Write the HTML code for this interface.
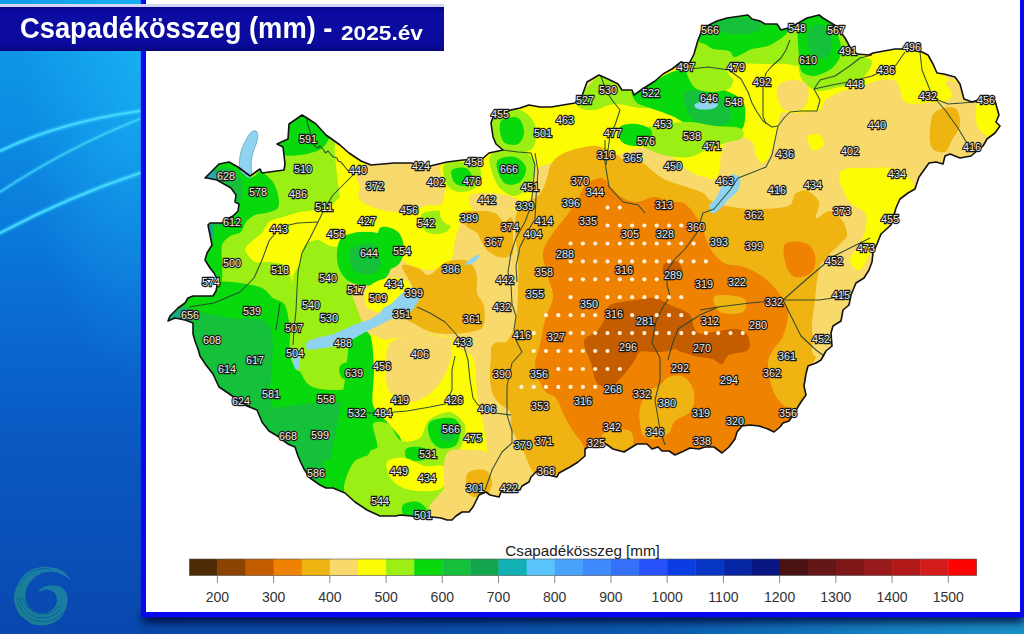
<!DOCTYPE html>
<html><head><meta charset="utf-8">
<style>
html,body{margin:0;padding:0;}
body{width:1024px;height:634px;overflow:hidden;position:relative;font-family:"Liberation Sans",sans-serif;
background:linear-gradient(180deg,#109ee8 0%,#0c8ce2 20%,#0a70d6 45%,#0a58c2 70%,#0948ae 100%);}
#bottom{position:absolute;left:138px;top:616px;width:886px;height:18px;
background:linear-gradient(90deg,#0848a8 0%,#0a4aa8 30%,#0b5cb0 60%,#1580c0 85%,#1a90c8 100%);}
#shadow{position:absolute;left:143px;top:606px;width:881px;height:10px;box-shadow:0 6px 9px 0px rgba(0,8,48,0.95);}
#panel{position:absolute;left:141px;top:-10px;width:873.5px;height:621.7px;background:#fff;border:5px solid #0808ee;border-top:none;box-shadow:0 0 1.5px 0.5px #0808ee;}
#title{position:absolute;left:0;top:4px;width:444px;height:47px;background:linear-gradient(180deg,#05058e 0px,#0c0ca2 6px,#0a0a9c 38px,#06067a 44px);border-top:3px solid #d4d4f6;box-sizing:border-box;}
#tt{position:absolute;left:20px;top:5px;color:#fff;font-weight:bold;font-size:29px;white-space:nowrap;transform-origin:0 0;transform:scaleX(0.941);}
#ty{position:absolute;left:341px;top:14px;color:#fff;font-weight:bold;font-size:21px;white-space:nowrap;transform-origin:0 0;transform:scaleX(1.08);}
svg{position:absolute;left:0;top:0;}
.lab text{font-size:11.3px;fill:#eee;stroke:#151515;stroke-width:2.3px;paint-order:stroke;font-family:"Liberation Sans",sans-serif;text-anchor:middle;}
</style></head><body>
<div id="bottom"></div>
<svg id="bg" width="146" height="634" viewBox="0 0 146 634" style="position:absolute;left:0;top:0">
<defs><linearGradient id="lg" x1="0" y1="1" x2="1" y2="0"><stop offset="0" stop-color="#2ab860"/><stop offset="1" stop-color="#28a8b0"/></linearGradient><radialGradient id="hl" cx="0.95" cy="0.15" r="0.8"><stop offset="0" stop-color="#22c4ff" stop-opacity="0.5"/><stop offset="1" stop-color="#22c4ff" stop-opacity="0"/></radialGradient></defs>
<rect x="0" y="0" width="146" height="400" fill="url(#hl)"/>
<filter id="gl" x="-10%" y="-50%" width="120%" height="200%"><feGaussianBlur stdDeviation="1.2"/></filter>
<g fill="none" stroke="#38d4ff" stroke-linecap="round" opacity="0.9" filter="url(#gl)">
<path d="M0,151 Q60,122 140,111" stroke-width="3.5"/>
<path d="M0,192 Q70,146 140,119" stroke-width="2.5" opacity="0.8"/>
<path d="M0,233 Q70,196 140,173" stroke-width="3.5"/>
</g>
<g fill="none" stroke="#50dcff" stroke-linecap="round" opacity="0.85">
<path d="M0,151 Q60,122 140,111" stroke-width="1.5"/>
<path d="M0,192 Q70,146 140,119" stroke-width="1.1" opacity="0.8"/>
<path d="M0,233 Q70,196 140,173" stroke-width="1.5"/>
</g>
<path d="M72,581 L64,572 L56,568 L43,566.5 L33,569 L26,573 L20,580 L16,588 L14,596 L14.5,603 L17,610 L20,615 L26,620 L32,624 L40,625.5 L47,625 L53,623 L59,619.5 L63,614.5 L66,608.5 L67.5,602 L67.4,596 L65.5,591 L63,588.5 L58.5,586 L54,585.4 L49,585.5 L44,586.5 L40,589.5 L38.5,592 L41,591 L45,589.5 L50,590 L54,592 L56.5,596 L57,601 L55.5,606 L52,610 L47,613 L40,613.5 L33,611 L28,606 L25.5,600 L25.5,594 L27,587 L30,582 L35,577 L42,573 L50,571.5 L58,572.5 L65,576 Z" fill="url(#lg)" opacity="0.5"/>
<g fill="none" stroke="#0a4cb8" stroke-width="0.8" opacity="0.8">
<path d="M17,597 A26,26 0 0 0 64,611"/>
<path d="M20,598 A23,23 0 0 0 61,609"/>
<path d="M23,598 A20,20 0 0 0 58,607"/>
<path d="M20,585 A27,27 0 0 1 50,569"/>
</g>
</g>
</svg>
<div id="shadow"></div>
<div id="panel"></div>
<svg width="1024" height="634" viewBox="0 0 1024 634">
<defs><clipPath id="hu"><path d="M205,178 L219,164 L229,162 L238,167 L250,176 L257,171 L260,169 L262,173 L284,170 L285,164 L283,147 L277,144 L288,139 L289,124 L302,115 L307,118 L316,124 L326,135 L340,145 L349,153 L361,161 L371,165 L394,163 L411,163 L430,166 L447,162 L463,160 L482,159 L489,153 L503,150 L496,144 L493,137 L491,123 L494,114 L506,111 L520,108 L529,105 L540,107 L551,107 L575,103 L582,96 L587,82 L599,75 L608,79 L618,84 L622,90 L632,90 L634,95 L644,88 L655,81 L663,74 L672,69 L681,62 L689,64 L694,54 L698,40 L703,28 L717,21 L727,18 L748,15 L752,19 L760,21 L765,24 L777,24 L781,30 L788,28 L795,25 L807,18 L819,15 L823,18 L836,26 L845,38 L850,47 L857,54 L869,55 L873,53 L884,51 L895,49 L904,49 L922,52 L928,55 L933,64 L937,73 L944,74 L955,77 L960,84 L964,99 L972,102 L981,99 L995,101 L997,108 L999,115 L996,122 L1000,126 L995,133 L987,139 L983,146 L971,156 L960,158 L950,154 L945,156 L943,164 L936,162 L929,163 L924,170 L919,177 L915,189 L908,193 L900,199 L896,208 L891,225 L881,234 L877,244 L873,253 L872,262 L869,270 L864,278 L856,283 L851,295 L849,305 L843,310 L841,321 L833,326 L831,333 L832,346 L826,351 L821,360 L816,363 L808,366 L806,374 L804,386 L806,395 L801,402 L796,410 L791,418 L789,421 L783,423 L780,427 L774,432 L768,429 L759,426 L750,425 L742,426 L737,432 L735,439 L729,447 L722,453 L714,447 L705,447 L699,449 L690,448 L684,451 L675,455 L669,451 L662,451 L658,447 L652,449 L647,444 L637,444 L624,452 L613,449 L606,444 L600,442 L593,444 L585,449 L585,456 L578,462 L570,467 L559,473 L557,477 L548,475 L537,471 L531,477 L529,482 L522,486 L520,490 L510,490 L501,492 L499,497 L490,495 L486,492 L479,495 L477,499 L473,507 L469,512 L462,512 L456,516 L452,520 L447,520 L441,518 L432,517 L421,518 L411,516 L400,515 L396,516 L380,516 L367,510 L355,502 L345,493 L333,488 L326,488 L320,485 L310,478 L304,469 L301,463 L298,456 L295,447 L288,444 L279,437 L269,431 L262,422 L257,410 L247,406 L235,398 L228,393 L219,387 L213,374 L206,365 L200,356 L198,349 L195,341 L193,334 L193,323 L185,320 L175,318 L168,321 L170,316 L178,308 L185,303 L188,298 L193,296 L205,296 L213,296 L216,291 L218,281 L214,273 L210,268 L205,260 L207,253 L212,245 L210,235 L208,225 L210,223 L222,223 L229,218 L233,216 L238,211 L239,204 L235,202 L236,195 L231,188 L217,180 L207,178Z"/></clipPath></defs>
<g clip-path="url(#hu)">
<path d="M205,178 L219,164 L229,162 L238,167 L250,176 L257,171 L260,169 L262,173 L284,170 L285,164 L283,147 L277,144 L288,139 L289,124 L302,115 L307,118 L316,124 L326,135 L340,145 L349,153 L361,161 L371,165 L394,163 L411,163 L430,166 L447,162 L463,160 L482,159 L489,153 L503,150 L496,144 L493,137 L491,123 L494,114 L506,111 L520,108 L529,105 L540,107 L551,107 L575,103 L582,96 L587,82 L599,75 L608,79 L618,84 L622,90 L632,90 L634,95 L644,88 L655,81 L663,74 L672,69 L681,62 L689,64 L694,54 L698,40 L703,28 L717,21 L727,18 L748,15 L752,19 L760,21 L765,24 L777,24 L781,30 L788,28 L795,25 L807,18 L819,15 L823,18 L836,26 L845,38 L850,47 L857,54 L869,55 L873,53 L884,51 L895,49 L904,49 L922,52 L928,55 L933,64 L937,73 L944,74 L955,77 L960,84 L964,99 L972,102 L981,99 L995,101 L997,108 L999,115 L996,122 L1000,126 L995,133 L987,139 L983,146 L971,156 L960,158 L950,154 L945,156 L943,164 L936,162 L929,163 L924,170 L919,177 L915,189 L908,193 L900,199 L896,208 L891,225 L881,234 L877,244 L873,253 L872,262 L869,270 L864,278 L856,283 L851,295 L849,305 L843,310 L841,321 L833,326 L831,333 L832,346 L826,351 L821,360 L816,363 L808,366 L806,374 L804,386 L806,395 L801,402 L796,410 L791,418 L789,421 L783,423 L780,427 L774,432 L768,429 L759,426 L750,425 L742,426 L737,432 L735,439 L729,447 L722,453 L714,447 L705,447 L699,449 L690,448 L684,451 L675,455 L669,451 L662,451 L658,447 L652,449 L647,444 L637,444 L624,452 L613,449 L606,444 L600,442 L593,444 L585,449 L585,456 L578,462 L570,467 L559,473 L557,477 L548,475 L537,471 L531,477 L529,482 L522,486 L520,490 L510,490 L501,492 L499,497 L490,495 L486,492 L479,495 L477,499 L473,507 L469,512 L462,512 L456,516 L452,520 L447,520 L441,518 L432,517 L421,518 L411,516 L400,515 L396,516 L380,516 L367,510 L355,502 L345,493 L333,488 L326,488 L320,485 L310,478 L304,469 L301,463 L298,456 L295,447 L288,444 L279,437 L269,431 L262,422 L257,410 L247,406 L235,398 L228,393 L219,387 L213,374 L206,365 L200,356 L198,349 L195,341 L193,334 L193,323 L185,320 L175,318 L168,321 L170,316 L178,308 L185,303 L188,298 L193,296 L205,296 L213,296 L216,291 L218,281 L214,273 L210,268 L205,260 L207,253 L212,245 L210,235 L208,225 L210,223 L222,223 L229,218 L233,216 L238,211 L239,204 L235,202 L236,195 L231,188 L217,180 L207,178Z" fill="#f7d96c"/>
<path d="M150,100 L345,100 L345,165 L350,200 L345,240 L350,290 L365,330 L370,380 L360,420 L400,440 L420,530 L150,530Z" fill="#9bef14"/><path d="M200,170 C205.7,152.0 231.1,164.1 238,165 C244.9,165.9 249.1,176.2 252,177 C254.9,177.8 258.1,171.3 260,171 C261.9,170.7 264.3,173.5 266,175 C267.7,176.5 271.5,179.9 273,182 C274.5,184.1 276.2,188.3 277,191 C277.8,193.7 279.0,199.6 279,202 C279.0,204.4 278.7,207.5 277,209 C275.3,210.5 268.9,212.2 266,213 C263.1,213.8 257.7,213.8 255,215 C252.3,216.2 247.9,219.7 246,222 C244.1,224.3 243.1,230.1 241,232 C238.9,233.9 232.5,234.3 230,236 C227.5,237.7 223.1,241.5 222,245 C220.9,248.5 222.0,257.3 222,262 C222.0,266.7 222.9,274.9 222,280 C221.1,285.1 218.6,297.3 215,300 C211.4,302.7 197.0,317.3 195,300 C193.0,282.7 194.3,188.0 200,170Z" fill="#08d90c"/><path d="M200,172 C203.8,166.7 221.3,167.0 228,168 C234.7,169.0 237.7,173.5 240,178 C242.3,182.5 242.7,189.3 242,195 C241.3,200.7 238.7,207.5 236,212 C233.3,216.5 229.7,219.7 226,222 C222.3,224.3 217.5,229.7 214,226 C210.5,222.3 207.3,209.0 205,200 C202.7,191.0 196.2,177.3 200,172Z" fill="#15c03a"/><path d="M200,172 C201.8,170.0 210.7,168.7 214,170 C217.3,171.3 220.3,177.3 220,180 C219.7,182.7 214.8,185.7 212,186 C209.2,186.3 205.0,184.3 203,182 C201.0,179.7 198.2,174.0 200,172Z" fill="#13a64e"/><path d="M279,112 C285.4,106.7 320.2,108.9 327,112 C333.8,115.1 330.8,130.1 330,135 C329.2,139.9 325.0,146.3 321,149 C317.0,151.7 305.6,154.6 300,155 C294.4,155.4 281.8,157.7 279,152 C276.2,146.3 272.6,117.3 279,112Z" fill="#08d90c"/><path d="M245,250 C244.6,247.2 249.7,243.3 252,241 C254.3,238.7 259.7,235.5 262,233 C264.3,230.5 266.2,224.1 269,222 C271.8,219.9 278.9,218.3 283,217 C287.1,215.7 295.7,212.9 300,212 C304.3,211.1 311.0,210.8 315,210 C319.0,209.2 326.4,207.9 330,206 C333.6,204.1 339.1,196.8 342,196 C344.9,195.2 350.7,196.5 352,200 C353.3,203.5 352.9,216.0 352,222 C351.1,228.0 347.9,241.8 345,245 C342.1,248.2 333.6,246.7 330,246 C326.4,245.3 321.3,240.1 318,240 C314.7,239.9 307.4,242.1 305,245 C302.6,247.9 301.6,257.9 300,262 C298.4,266.1 293.9,273.2 293,276 C292.1,278.8 293.9,284.3 293,283 C292.1,281.7 289.2,268.8 286,266 C282.8,263.2 273.1,262.5 269,262 C264.9,261.5 258.2,263.6 255,262 C251.8,260.4 245.4,252.8 245,250Z" fill="#fcfc04"/><path d="M324,228 C326.7,225.5 334.8,224.3 340,225 C345.2,225.7 353.0,228.7 355,232 C357.0,235.3 355.3,242.5 352,245 C348.7,247.5 339.7,247.8 335,247 C330.3,246.2 325.8,243.2 324,240 C322.2,236.8 321.3,230.5 324,228Z" fill="#fcfc04"/><path d="M165,300 C168.3,291.1 178.1,295.4 185,293 C191.9,290.6 209.7,283.3 217,282 C224.3,280.7 234.0,282.2 240,283 C246.0,283.8 257.6,286.0 262,288 C266.4,290.0 269.9,295.7 273,298 C276.1,300.3 282.7,300.7 285,305 C287.3,309.3 289.3,323.3 290,330 C290.7,336.7 288.7,349.4 290,355 C291.3,360.6 294.7,369.7 300,372 C305.3,374.3 323.3,373.6 330,372 C336.7,370.4 345.3,362.9 350,360 C354.7,357.1 362.1,348.7 365,350 C367.9,351.3 372.0,364.0 372,370 C372.0,376.0 365.5,388.3 365,395 C364.5,401.7 367.1,413.3 368,420 C368.9,426.7 373.1,438.3 372,445 C370.9,451.7 363.6,463.3 360,470 C356.4,476.7 349.0,491.0 345,495 C341.0,499.0 336.0,502.0 330,500 C324.0,498.0 309.3,488.0 300,480 C290.7,472.0 273.3,450.7 260,440 C246.7,429.3 213.3,410.7 200,400 C186.7,389.3 164.7,373.3 160,360 C155.3,346.7 161.7,308.9 165,300Z" fill="#08d90c"/><path d="M175,305 C178.3,298.7 190.8,309.8 200,312 C209.2,314.2 219.7,316.7 230,318 C240.3,319.3 255.0,317.2 262,320 C269.0,322.8 270.3,326.7 272,335 C273.7,343.3 272.3,359.2 272,370 C271.7,380.8 267.8,391.7 270,400 C272.2,408.3 279.2,413.3 285,420 C290.8,426.7 298.8,434.2 305,440 C311.2,445.8 319.5,448.3 322,455 C324.5,461.7 323.7,477.5 320,480 C316.3,482.5 307.5,476.7 300,470 C292.5,463.3 285.0,450.0 275,440 C265.0,430.0 251.7,418.3 240,410 C228.3,401.7 215.0,400.0 205,390 C195.0,380.0 185.0,364.2 180,350 C175.0,335.8 171.7,311.3 175,305Z" fill="#15c03a"/><path d="M262,412 C265.0,407.7 278.7,407.7 290,406 C301.3,404.3 318.8,402.0 330,402 C341.2,402.0 351.7,401.7 357,406 C362.3,410.3 363.5,421.0 362,428 C360.5,435.0 354.7,442.3 348,448 C341.3,453.7 330.0,459.0 322,462 C314.0,465.0 305.7,468.0 300,466 C294.3,464.0 292.7,455.7 288,450 C283.3,444.3 276.3,438.3 272,432 C267.7,425.7 259.0,416.3 262,412Z" fill="#15c03a"/><path d="M300,358 C303.7,352.7 320.0,352.7 330,352 C340.0,351.3 353.0,351.7 360,354 C367.0,356.3 371.7,361.0 372,366 C372.3,371.0 368.2,380.0 362,384 C355.8,388.0 344.0,390.0 335,390 C326.0,390.0 313.8,389.3 308,384 C302.2,378.7 296.3,363.3 300,358Z" fill="#9bef14"/><path d="M340,366 C341.7,363.3 348.3,361.3 352,362 C355.7,362.7 361.5,367.0 362,370 C362.5,373.0 358.3,378.7 355,380 C351.7,381.3 344.5,380.3 342,378 C339.5,375.7 338.3,368.7 340,366Z" fill="#08d90c"/><path d="M168,321 C167.0,319.0 173.0,314.2 176,312 C179.0,309.8 183.7,307.0 186,308 C188.3,309.0 190.7,315.3 190,318 C189.3,320.7 185.7,323.5 182,324 C178.3,324.5 169.0,323.0 168,321Z" fill="#1aa88a"/><path d="M207,226 C207.5,223.3 210.8,222.3 212,224 C213.2,225.7 214.5,233.3 214,236 C213.5,238.7 210.2,241.7 209,240 C207.8,238.3 206.5,228.7 207,226Z" fill="#1aa88a"/><path d="M204,176 C204.3,173.7 209.7,169.7 212,170 C214.3,170.3 218.3,175.7 218,178 C217.7,180.3 212.3,184.3 210,184 C207.7,183.7 203.7,178.3 204,176Z" fill="#2aa8b0"/><path d="M340,240 C343.7,234.5 352.5,232.7 360,232 C367.5,231.3 379.7,232.2 385,236 C390.3,239.8 391.5,248.5 392,255 C392.5,261.5 391.3,270.0 388,275 C384.7,280.0 378.3,283.8 372,285 C365.7,286.2 355.7,285.3 350,282 C344.3,278.7 339.7,272.0 338,265 C336.3,258.0 336.3,245.5 340,240Z" fill="#08d90c"/><path d="M352,248 C355.7,245.0 367.0,242.7 372,244 C377.0,245.3 381.3,251.3 382,256 C382.7,260.7 380.0,269.2 376,272 C372.0,274.8 362.3,274.7 358,273 C353.7,271.3 351.0,266.2 350,262 C349.0,257.8 348.3,251.0 352,248Z" fill="#15c03a"/><path d="M335,140 C336.7,130.0 346.8,146.7 352,150 C357.2,153.3 364.0,155.8 366,160 C368.0,164.2 365.0,168.3 364,175 C363.0,181.7 354.8,193.8 360,200 C365.2,206.2 383.3,211.2 395,212 C406.7,212.8 420.8,207.0 430,205 C439.2,203.0 444.7,198.3 450,200 C455.3,201.7 461.2,208.3 462,215 C462.8,221.7 457.0,232.2 455,240 C453.0,247.8 454.2,257.0 450,262 C445.8,267.0 437.5,270.0 430,270 C422.5,270.0 411.3,267.0 405,262 C398.7,257.0 397.0,245.0 392,240 C387.0,235.0 381.7,233.7 375,232 C368.3,230.3 357.5,233.7 352,230 C346.5,226.3 344.8,225.0 342,210 C339.2,195.0 333.3,150.0 335,140Z" fill="#fcfc04"/><path d="M362,170 C375.0,166.0 424.0,165.2 440,166 C456.0,166.8 455.3,169.3 458,175 C460.7,180.7 459.0,195.0 456,200 C453.0,205.0 446.8,204.3 440,205 C433.2,205.7 422.5,203.5 415,204 C407.5,204.5 402.2,207.7 395,208 C387.8,208.3 377.5,209.0 372,206 C366.5,203.0 363.7,196.0 362,190 C360.3,184.0 349.0,174.0 362,170Z" fill="#f7d96c"/><path d="M422,214 C425.5,211.0 440.3,209.7 445,212 C449.7,214.3 451.2,224.3 450,228 C448.8,231.7 442.3,233.7 438,234 C433.7,234.3 426.7,233.3 424,230 C421.3,226.7 418.5,217.0 422,214Z" fill="#9bef14"/><path d="M380,228 C383.3,225.0 394.0,228.3 398,232 C402.0,235.7 404.0,244.5 404,250 C404.0,255.5 401.2,262.0 398,265 C394.8,268.0 388.3,270.5 385,268 C381.7,265.5 378.8,256.7 378,250 C377.2,243.3 376.7,231.0 380,228Z" fill="#08d90c"/><path d="M237,160 C237.7,158.0 243.5,158.0 246,160 C248.5,162.0 251.3,169.0 252,172 C252.7,175.0 251.7,178.0 250,178 C248.3,178.0 244.2,175.0 242,172 C239.8,169.0 236.3,162.0 237,160Z" fill="#8fd3f0"/><path d="M441,165 C444.3,160.7 463.5,160.0 470,158 C476.5,156.0 487.1,156.1 490,150 C492.9,143.9 485.3,118.1 492,112 C498.7,105.9 527.6,106.3 540,104 C552.4,101.7 577.0,99.0 585,95 C593.0,91.0 592.7,75.3 600,74 C607.3,72.7 628.0,86.9 640,85 C652.0,83.1 682.0,62.0 690,60 C698.0,58.0 692.0,68.7 700,70 C708.0,71.3 736.7,71.3 750,70 C763.3,68.7 784.0,62.0 800,60 C816.0,58.0 856.0,56.3 870,55 C884.0,53.7 894.3,46.7 905,50 C915.7,53.3 942.9,76.0 950,80 C957.1,84.0 958.7,79.7 958,80 C957.3,80.3 947.7,80.4 945,82 C942.3,83.6 939.6,89.5 938,92 C936.4,94.5 936.1,99.4 933,101 C929.9,102.6 919.0,104.1 915,104 C911.0,103.9 905.4,102.9 903,100 C900.6,97.1 900.1,84.7 897,82 C893.9,79.3 884.9,79.3 880,80 C875.1,80.7 865.3,85.4 860,87 C854.7,88.6 844.5,90.3 840,92 C835.5,93.7 828.7,97.6 826,100 C823.3,102.4 822.7,108.4 820,110 C817.3,111.6 809.7,111.6 806,112 C802.3,112.4 795.3,112.9 792,113 C788.7,113.1 782.9,111.4 781,113 C779.1,114.6 778.9,121.0 778,125 C777.1,129.0 775.3,138.6 774,143 C772.7,147.4 769.6,155.3 768,158 C766.4,160.7 763.6,163.3 762,163 C760.4,162.7 757.2,158.7 756,156 C754.8,153.3 754.9,145.5 753,143 C751.1,140.5 745.3,137.5 742,137 C738.7,136.5 730.8,137.0 728,139 C725.2,141.0 722.1,148.1 721,152 C719.9,155.9 720.8,164.4 720,168 C719.2,171.6 718.3,178.2 715,179 C711.7,179.8 699.1,175.6 695,174 C690.9,172.4 686.8,169.1 684,167 C681.2,164.9 677.2,160.1 674,158 C670.8,155.9 664.5,152.3 660,151 C655.5,149.7 648.0,146.8 640,148 C632.0,149.2 610.7,158.1 600,160 C589.3,161.9 568.7,160.7 560,162 C551.3,163.3 538.9,165.3 535,170 C531.1,174.7 533.7,191.7 531,197 C528.3,202.3 520.5,208.5 515,210 C509.5,211.5 496.0,207.7 490,208 C484.0,208.3 475.3,209.7 470,212 C464.7,214.3 454.0,224.6 450,225 C446.0,225.4 440.7,219.7 440,215 C439.3,210.3 444.9,196.7 445,190 C445.1,183.3 437.7,169.3 441,165Z" fill="#fcfc04"/><path d="M470,196 C472.5,192.8 482.5,192.7 490,193 C497.5,193.3 510.3,195.5 515,198 C519.7,200.5 521.2,206.0 518,208 C514.8,210.0 503.2,209.3 496,210 C488.8,210.7 479.3,214.3 475,212 C470.7,209.7 467.5,199.2 470,196Z" fill="#f7d96c"/><path d="M494,112 C499.0,109.0 513.2,107.8 520,110 C526.8,112.2 532.8,118.7 535,125 C537.2,131.3 536.3,143.5 533,148 C529.7,152.5 521.3,152.5 515,152 C508.7,151.5 499.2,149.0 495,145 C490.8,141.0 490.2,133.5 490,128 C489.8,122.5 489.0,115.0 494,112Z" fill="#9bef14"/><path d="M502,120 C505.0,117.7 514.3,116.0 518,118 C521.7,120.0 524.0,127.7 524,132 C524.0,136.3 521.2,142.2 518,144 C514.8,145.8 508.0,145.0 505,143 C502.0,141.0 500.5,135.8 500,132 C499.5,128.2 499.0,122.3 502,120Z" fill="#08d90c"/><path d="M490,156 C492.2,152.3 499.2,150.7 505,150 C510.8,149.3 520.0,149.5 525,152 C530.0,154.5 534.2,159.5 535,165 C535.8,170.5 533.3,179.8 530,185 C526.7,190.2 520.0,195.5 515,196 C510.0,196.5 503.8,192.0 500,188 C496.2,184.0 493.7,177.3 492,172 C490.3,166.7 487.8,159.7 490,156Z" fill="#9bef14"/><path d="M498,160 C500.8,157.5 510.3,155.7 515,157 C519.7,158.3 525.2,163.8 526,168 C526.8,172.2 523.3,179.3 520,182 C516.7,184.7 509.7,185.7 506,184 C502.3,182.3 499.3,176.0 498,172 C496.7,168.0 495.2,162.5 498,160Z" fill="#08d90c"/><path d="M444,165 C446.8,161.0 459.0,161.5 465,162 C471.0,162.5 477.8,164.2 480,168 C482.2,171.8 481.0,181.0 478,185 C475.0,189.0 467.0,191.8 462,192 C457.0,192.2 451.0,190.5 448,186 C445.0,181.5 441.2,169.0 444,165Z" fill="#9bef14"/><path d="M452,170 C454.0,167.7 462.7,166.7 466,168 C469.3,169.3 472.3,175.0 472,178 C471.7,181.0 467.0,185.3 464,186 C461.0,186.7 456.0,184.7 454,182 C452.0,179.3 450.0,172.3 452,170Z" fill="#08d90c"/><path d="M578,100 C581.3,94.7 593.0,78.0 600,76 C607.0,74.0 613.3,85.3 620,88 C626.7,90.7 633.3,93.3 640,92 C646.7,90.7 651.7,84.3 660,80 C668.3,75.7 683.3,63.5 690,66 C696.7,68.5 700.0,87.7 700,95 C700.0,102.3 696.7,107.8 690,110 C683.3,112.2 668.3,108.3 660,108 C651.7,107.7 647.5,108.7 640,108 C632.5,107.3 622.5,103.7 615,104 C607.5,104.3 600.8,109.3 595,110 C589.2,110.7 582.8,109.7 580,108 C577.2,106.3 574.7,105.3 578,100Z" fill="#9bef14"/><path d="M633,88 C636.2,84.3 647.2,83.0 655,80 C662.8,77.0 672.5,70.3 680,70 C687.5,69.7 693.3,75.0 700,78 C706.7,81.0 713.0,84.3 720,88 C727.0,91.7 737.8,94.7 742,100 C746.2,105.3 745.7,114.7 745,120 C744.3,125.3 743.0,130.3 738,132 C733.0,133.7 722.2,130.7 715,130 C707.8,129.3 702.2,130.3 695,128 C687.8,125.7 679.5,119.3 672,116 C664.5,112.7 656.0,110.3 650,108 C644.0,105.7 638.8,105.3 636,102 C633.2,98.7 629.8,91.7 633,88Z" fill="#08d90c"/><path d="M685,92 C688.7,89.3 700.8,90.0 708,92 C715.2,94.0 724.3,99.3 728,104 C731.7,108.7 732.0,116.3 730,120 C728.0,123.7 721.7,125.7 716,126 C710.3,126.3 701.0,125.0 696,122 C691.0,119.0 687.8,113.0 686,108 C684.2,103.0 681.3,94.7 685,92Z" fill="#15c03a"/><path d="M695,104 C696.7,102.7 704.2,101.0 708,101 C711.8,101.0 717.3,102.7 718,104 C718.7,105.3 715.3,108.2 712,109 C708.7,109.8 700.8,109.8 698,109 C695.2,108.2 693.3,105.3 695,104Z" fill="#8fd3f0"/><path d="M640,130 C644.5,127.0 656.7,125.3 665,124 C673.3,122.7 681.7,121.7 690,122 C698.3,122.3 706.7,125.0 715,126 C723.3,127.0 735.5,126.0 740,128 C744.5,130.0 744.5,135.5 742,138 C739.5,140.5 731.0,141.0 725,143 C719.0,145.0 711.8,147.7 706,150 C700.2,152.3 696.3,156.0 690,157 C683.7,158.0 674.7,157.2 668,156 C661.3,154.8 655.0,152.3 650,150 C645.0,147.7 639.7,145.3 638,142 C636.3,138.7 635.5,133.0 640,130Z" fill="#9bef14"/><path d="M620,127 C622.5,124.2 630.8,123.5 636,124 C641.2,124.5 648.8,126.8 651,130 C653.2,133.2 651.8,140.3 649,143 C646.2,145.7 638.7,146.3 634,146 C629.3,145.7 623.3,144.2 621,141 C618.7,137.8 617.5,129.8 620,127Z" fill="#08d90c"/><path d="M690,50 C691.9,44.0 692.0,30.1 700,25 C708.0,19.9 738.0,12.9 750,12 C762.0,11.1 783.3,14.3 790,18 C796.7,21.7 798.7,34.1 800,40 C801.3,45.9 801.3,58.3 800,62 C798.7,65.7 795.1,67.5 790,68 C784.9,68.5 768.9,65.5 762,66 C755.1,66.5 742.3,69.1 738,72 C733.7,74.9 733.5,85.3 730,88 C726.5,90.7 716.7,92.0 712,92 C707.3,92.0 698.5,90.9 695,88 C691.5,85.1 686.7,75.1 686,70 C685.3,64.9 688.1,56.0 690,50Z" fill="#9bef14"/><path d="M699,41 C698.6,38.1 697.9,25.6 702,22 C706.1,18.4 722.3,15.1 730,14 C737.7,12.9 752.4,13.2 760,14 C767.6,14.8 783.4,17.5 787,20 C790.6,22.5 788.3,30.2 787,33 C785.7,35.8 779.5,39.3 777,41 C774.5,42.7 771.3,44.9 768,46 C764.7,47.1 755.5,47.9 752,49 C748.5,50.1 744.4,52.9 742,54 C739.6,55.1 735.7,57.4 734,57 C732.3,56.6 731.8,52.1 729,51 C726.2,49.9 716.2,49.9 713,49 C709.8,48.1 706.9,45.1 705,44 C703.1,42.9 699.4,43.9 699,41Z" fill="#08d90c"/><path d="M713,24 C714.7,21.5 727.5,18.7 735,18 C742.5,17.3 753.8,18.0 758,20 C762.2,22.0 762.2,27.7 760,30 C757.8,32.3 750.8,33.5 745,34 C739.2,34.5 730.3,34.7 725,33 C719.7,31.3 711.3,26.5 713,24Z" fill="#15c03a"/><path d="M798,40 C798.0,30.5 796.0,22.5 800,18 C804.0,13.5 814.5,9.7 822,13 C829.5,16.3 838.7,31.0 845,38 C851.3,45.0 855.5,51.0 860,55 C864.5,59.0 872.0,57.8 872,62 C872.0,66.2 866.2,75.7 860,80 C853.8,84.3 842.5,86.3 835,88 C827.5,89.7 820.8,92.2 815,90 C809.2,87.8 802.8,83.3 800,75 C797.2,66.7 798.0,49.5 798,40Z" fill="#9bef14"/><path d="M799,19 C801.8,13.3 815.7,13.7 820,14 C824.3,14.3 828.3,17.4 831,21 C833.7,24.6 838.8,36.2 840,41 C841.2,45.8 841.2,53.3 840,57 C838.8,60.7 834.3,66.5 831,69 C827.7,71.5 818.9,75.6 815,76 C811.1,76.4 804.1,74.5 802,72 C799.9,69.5 799.4,64.1 799,57 C798.6,49.9 796.2,24.7 799,19Z" fill="#08d90c"/><path d="M810,28 C812.7,25.0 820.3,23.7 824,26 C827.7,28.3 831.3,37.0 832,42 C832.7,47.0 830.8,53.3 828,56 C825.2,58.7 818.3,60.0 815,58 C811.7,56.0 808.8,49.0 808,44 C807.2,39.0 807.3,31.0 810,28Z" fill="#15c03a"/><path d="M727,66 C730.7,62.3 750.7,64.0 762,64 C773.3,64.0 788.7,62.5 795,66 C801.3,69.5 799.2,79.3 800,85 C800.8,90.7 803.3,97.2 800,100 C796.7,102.8 786.3,103.7 780,102 C773.7,100.3 768.7,92.7 762,90 C755.3,87.3 745.8,90.0 740,86 C734.2,82.0 723.3,69.7 727,66Z" fill="#fcfc04"/><path d="M778,86 C780.3,82.7 787.3,80.3 792,80 C796.7,79.7 803.3,80.7 806,84 C808.7,87.3 809.0,95.7 808,100 C807.0,104.3 803.8,108.3 800,110 C796.2,111.7 788.7,111.7 785,110 C781.3,108.3 779.2,104.0 778,100 C776.8,96.0 775.7,89.3 778,86Z" fill="#f7d96c"/><path d="M900,50 C904.2,44.5 918.3,47.8 925,52 C931.7,56.2 935.5,67.8 940,75 C944.5,82.2 952.0,90.5 952,95 C952.0,99.5 946.2,101.2 940,102 C933.8,102.8 921.7,102.8 915,100 C908.3,97.2 902.5,93.3 900,85 C897.5,76.7 895.8,55.5 900,50Z" fill="#fcfc04"/><path d="M980,100 C983.7,98.7 994.7,99.8 998,104 C1001.3,108.2 1001.3,119.7 1000,125 C998.7,130.3 993.7,135.5 990,136 C986.3,136.5 980.3,132.0 978,128 C975.7,124.0 975.7,116.7 976,112 C976.3,107.3 976.3,101.3 980,100Z" fill="#fcfc04"/><path d="M935,112 C939.2,108.3 950.8,105.8 955,108 C959.2,110.2 960.5,119.7 960,125 C959.5,130.3 954.5,135.5 952,140 C949.5,144.5 948.3,150.7 945,152 C941.7,153.3 934.5,151.7 932,148 C929.5,144.3 929.5,136.0 930,130 C930.5,124.0 930.8,115.7 935,112Z" fill="#efb412"/><path d="M808,136 C809.3,133.5 817.5,133.3 820,135 C822.5,136.7 824.3,143.5 823,146 C821.7,148.5 814.5,151.7 812,150 C809.5,148.3 806.7,138.5 808,136Z" fill="#fcfc04"/><path d="M840,172 C843.7,166.7 860.0,168.3 870,168 C880.0,167.7 892.5,166.3 900,170 C907.5,173.7 915.0,184.2 915,190 C915.0,195.8 905.0,198.3 900,205 C895.0,211.7 889.7,222.5 885,230 C880.3,237.5 876.2,243.3 872,250 C867.8,256.7 863.7,268.3 860,270 C856.3,271.7 849.7,265.0 850,260 C850.3,255.0 859.3,247.5 862,240 C864.7,232.5 868.3,221.7 866,215 C863.7,208.3 852.3,207.2 848,200 C843.7,192.8 836.3,177.3 840,172Z" fill="#fcfc04"/><path d="M366,336 C368.7,330.7 381.1,339.7 385,340 C388.9,340.3 387.0,338.5 395,338 C403.0,337.5 436.1,334.4 445,336 C453.9,337.6 458.1,346.8 462,350 C465.9,353.2 471.9,353.3 474,360 C476.1,366.7 476.4,389.3 478,400 C479.6,410.7 484.9,431.3 486,440 C487.1,448.7 488.1,461.0 486,465 C483.9,469.0 475.5,466.7 470,470 C464.5,473.3 453.0,486.8 445,490 C437.0,493.2 417.7,494.8 410,494 C402.3,493.2 391.0,488.5 387,484 C383.0,479.5 379.7,466.4 380,460 C380.3,453.6 389.9,442.7 389,436 C388.1,429.3 376.2,417.5 373,410 C369.8,402.5 365.9,389.9 365,380 C364.1,370.1 363.3,341.3 366,336Z" fill="#fcfc04"/><path d="M394,340 C403.8,334.8 435.3,335.3 445,337 C454.7,338.7 451.8,344.2 452,350 C452.2,355.8 449.3,365.0 446,372 C442.7,379.0 438.0,387.0 432,392 C426.0,397.0 417.0,402.0 410,402 C403.0,402.0 394.0,397.7 390,392 C386.0,386.3 385.3,376.7 386,368 C386.7,359.3 384.2,345.2 394,340Z" fill="#f7d96c"/><path d="M352,330 C355.3,324.0 367.1,329.7 370,335 C372.9,340.3 373.6,360.7 374,370 C374.4,379.3 371.0,397.8 373,405 C375.0,412.2 385.3,419.2 389,424 C392.7,428.8 402.6,437.8 401,441 C399.4,444.2 383.3,445.5 377,448 C370.7,450.5 357.1,455.2 354,460 C350.9,464.8 355.3,480.0 354,484 C352.7,488.0 347.2,491.9 344,490 C340.8,488.1 330.8,479.3 330,470 C329.2,460.7 336.0,432.0 338,420 C340.0,408.0 343.1,392.0 345,380 C346.9,368.0 348.7,336.0 352,330Z" fill="#08d90c"/><path d="M373,424 C374.6,420.5 385.3,421.7 389,424 C392.7,426.3 396.9,439.1 401,441 C405.1,442.9 416.3,440.8 420,438 C423.7,435.2 425.0,423.5 429,420 C433.0,416.5 445.2,411.3 450,412 C454.8,412.7 463.4,420.6 465,425 C466.6,429.4 464.0,440.6 462,445 C460.0,449.4 452.4,454.7 450,458 C447.6,461.3 444.8,466.0 444,470 C443.2,474.0 445.9,483.3 444,488 C442.1,492.7 432.5,500.7 430,505 C427.5,509.3 434.3,518.0 425,520 C415.7,522.0 370.8,524.0 360,520 C349.2,516.0 344.8,497.7 344,490 C343.2,482.3 349.6,467.3 354,462 C358.4,456.7 374.5,455.1 377,450 C379.5,444.9 371.4,427.5 373,424Z" fill="#9bef14"/><path d="M430,422 C433.7,418.7 447.0,417.0 452,418 C457.0,419.0 459.3,423.5 460,428 C460.7,432.5 459.3,441.7 456,445 C452.7,448.3 444.3,449.2 440,448 C435.7,446.8 431.7,442.3 430,438 C428.3,433.7 426.3,425.3 430,422Z" fill="#08d90c"/><path d="M440,426 C442.0,424.0 449.3,422.7 452,424 C454.7,425.3 456.7,431.0 456,434 C455.3,437.0 450.7,441.7 448,442 C445.3,442.3 441.3,438.7 440,436 C438.7,433.3 438.0,428.0 440,426Z" fill="#15c03a"/><path d="M406,449 C408.0,446.8 416.0,446.5 420,447 C424.0,447.5 429.3,449.8 430,452 C430.7,454.2 427.7,458.7 424,460 C420.3,461.3 411.0,461.8 408,460 C405.0,458.2 404.0,451.2 406,449Z" fill="#08d90c"/><path d="M387,462 C389.2,458.3 398.7,457.3 405,458 C411.3,458.7 418.5,464.7 425,466 C431.5,467.3 440.5,463.7 444,466 C447.5,468.3 447.0,476.0 446,480 C445.0,484.0 444.0,488.3 438,490 C432.0,491.7 417.7,491.7 410,490 C402.3,488.3 395.8,484.7 392,480 C388.2,475.3 384.8,465.7 387,462Z" fill="#fcfc04"/><path d="M403,505 C405.2,502.3 413.8,500.8 418,502 C422.2,503.2 427.7,509.0 428,512 C428.3,515.0 423.8,519.0 420,520 C416.2,521.0 407.8,520.5 405,518 C402.2,515.5 400.8,507.7 403,505Z" fill="#08d90c"/><path d="M446,455 C450.0,446.7 463.0,450.0 470,450 C477.0,450.0 484.3,448.3 488,455 C491.7,461.7 493.3,481.2 492,490 C490.7,498.8 485.3,503.8 480,508 C474.7,512.2 465.7,516.3 460,515 C454.3,513.7 448.3,510.0 446,500 C443.7,490.0 442.0,463.3 446,455Z" fill="#f7d96c"/><path d="M467,474 C469.5,469.8 480.8,468.7 485,470 C489.2,471.3 491.8,477.8 492,482 C492.2,486.2 489.7,492.8 486,495 C482.3,497.2 473.2,498.5 470,495 C466.8,491.5 464.5,478.2 467,474Z" fill="#efb412"/><path d="M366,290 C368.3,285.8 374.7,282.0 380,280 C385.3,278.0 393.0,277.3 398,278 C403.0,278.7 409.0,281.0 410,284 C411.0,287.0 407.0,292.7 404,296 C401.0,299.3 396.3,301.3 392,304 C387.7,306.7 382.3,311.8 378,312 C373.7,312.2 368.0,308.7 366,305 C364.0,301.3 363.7,294.2 366,290Z" fill="#fcfc04"/><path d="M402,266 C402.8,262.7 413.5,266.5 418,268 C422.5,269.5 424.3,276.0 429,275 C433.7,274.0 440.2,264.5 446,262 C451.8,259.5 459.5,259.3 464,260 C468.5,260.7 470.8,263.2 473,266 C475.2,268.8 476.3,272.5 477,277 C477.7,281.5 475.8,288.2 477,293 C478.2,297.8 482.8,300.8 484,306 C485.2,311.2 485.0,320.0 484,324 C483.0,328.0 482.8,328.3 478,330 C473.2,331.7 462.8,333.7 455,334 C447.2,334.3 437.7,333.7 431,332 C424.3,330.3 419.0,326.3 415,324 C411.0,321.7 407.8,322.0 407,318 C406.2,314.0 409.0,305.0 410,300 C411.0,295.0 414.3,293.7 413,288 C411.7,282.3 401.2,269.3 402,266Z" fill="#efb412"/><path d="M462,213 C464.2,210.5 473.5,211.0 479,211 C484.5,211.0 490.8,211.2 495,213 C499.2,214.8 501.2,221.2 504,222 C506.8,222.8 510.5,214.2 512,218 C513.5,221.8 513.0,238.8 513,245 C513.0,251.2 514.3,253.0 512,255 C509.7,257.0 503.3,258.0 499,257 C494.7,256.0 489.7,253.0 486,249 C482.3,245.0 480.3,236.8 477,233 C473.7,229.2 468.5,229.3 466,226 C463.5,222.7 459.8,215.5 462,213Z" fill="#efb412"/><path d="M492,346 C494.7,340.3 506.0,341.7 510,344 C514.0,346.3 515.0,352.2 516,360 C517.0,367.8 517.8,385.7 516,391 C514.2,396.3 508.7,394.2 505,392 C501.3,389.8 496.2,385.7 494,378 C491.8,370.3 489.3,351.7 492,346Z" fill="#efb412"/><path d="M517,212 C519.2,207.3 524.2,205.0 528,202 C531.8,199.0 536.8,198.0 540,194 C543.2,190.0 545.2,183.0 547,178 C548.8,173.0 548.5,168.0 551,164 C553.5,160.0 557.2,156.7 562,154 C566.8,151.3 574.2,149.3 580,148 C585.8,146.7 591.7,145.3 597,146 C602.3,146.7 607.3,149.7 612,152 C616.7,154.3 620.3,158.5 625,160 C629.7,161.5 634.3,158.3 640,161 C645.7,163.7 653.8,172.5 659,176 C664.2,179.5 666.3,180.2 671,182 C675.7,183.8 681.7,185.2 687,187 C692.3,188.8 699.2,190.8 703,193 C706.8,195.2 706.2,197.8 710,200 C713.8,202.2 718.5,204.5 726,206 C733.5,207.5 744.7,209.0 755,209 C765.3,209.0 781.3,208.5 788,206 C794.7,203.5 791.8,196.5 795,194 C798.2,191.5 803.0,189.7 807,191 C811.0,192.3 817.5,197.5 819,202 C820.5,206.5 814.2,216.5 816,218 C817.8,219.5 825.7,210.7 830,211 C834.3,211.3 839.2,216.0 842,220 C844.8,224.0 847.3,231.0 847,235 C846.7,239.0 843.5,240.2 840,244 C836.5,247.8 829.7,252.8 826,258 C822.3,263.2 819.8,268.0 818,275 C816.2,282.0 816.0,290.8 815,300 C814.0,309.2 811.5,321.3 812,330 C812.5,338.7 818.7,345.0 818,352 C817.3,359.0 810.2,364.0 808,372 C805.8,380.0 808.0,390.3 805,400 C802.0,409.7 807.5,418.3 790,430 C772.5,441.7 731.7,465.0 700,470 C668.3,475.0 623.3,456.7 600,460 C576.7,463.3 570.8,487.5 560,490 C549.2,492.5 541.5,482.5 535,475 C528.5,467.5 524.8,452.5 521,445 C517.2,437.5 513.8,435.5 512,430 C510.2,424.5 512.0,416.3 510,412 C508.0,407.7 503.0,407.3 500,404 C497.0,400.7 493.7,397.7 492,392 C490.3,386.3 489.7,377.0 490,370 C490.3,363.0 491.0,355.0 494,350 C497.0,345.0 504.3,345.0 508,340 C511.7,335.0 514.3,328.3 516,320 C517.7,311.7 517.7,300.0 518,290 C518.3,280.0 518.5,270.0 518,260 C517.5,250.0 515.2,238.0 515,230 C514.8,222.0 514.8,216.7 517,212Z" fill="#efb412"/><path d="M581,192 C582.7,189.2 584.5,185.3 588,183 C591.5,180.7 598.0,177.2 602,178 C606.0,178.8 608.8,184.8 612,188 C615.2,191.2 617.0,194.7 621,197 C625.0,199.3 630.3,202.0 636,202 C641.7,202.0 649.5,197.0 655,197 C660.5,197.0 664.0,200.8 669,202 C674.0,203.2 679.8,200.5 685,204 C690.2,207.5 695.8,215.7 700,223 C704.2,230.3 706.0,241.3 710,248 C714.0,254.7 718.3,259.8 724,263 C729.7,266.2 737.5,264.7 744,267 C750.5,269.3 757.3,272.8 763,277 C768.7,281.2 773.8,286.3 778,292 C782.2,297.7 787.2,303.7 788,311 C788.8,318.3 785.5,329.5 783,336 C780.5,342.5 775.5,345.2 773,350 C770.5,354.8 767.7,357.5 768,365 C768.3,372.5 770.8,386.8 775,395 C779.2,403.2 788.8,408.2 793,414 C797.2,419.8 805.5,425.7 800,430 C794.5,434.3 776.7,435.0 760,440 C743.3,445.0 726.7,457.5 700,460 C673.3,462.5 620.0,458.3 600,455 C580.0,451.7 585.7,446.0 580,440 C574.3,434.0 570.0,426.0 566,419 C562.0,412.0 559.5,402.7 556,398 C552.5,393.3 548.5,396.2 545,391 C541.5,385.8 535.8,374.7 535,367 C534.2,359.3 538.3,352.8 540,345 C541.7,337.2 542.8,328.0 545,320 C547.2,312.0 552.5,304.2 553,297 C553.5,289.8 549.7,284.3 548,277 C546.3,269.7 542.2,260.3 543,253 C543.8,245.7 548.8,239.5 553,233 C557.2,226.5 563.8,219.5 568,214 C572.2,208.5 575.8,203.7 578,200 C580.2,196.3 579.3,194.8 581,192Z" fill="#ef8200"/><path d="M785,244 C788.2,240.3 800.0,241.2 805,243 C810.0,244.8 813.8,250.2 815,255 C816.2,259.8 815.3,268.3 812,272 C808.7,275.7 799.3,278.2 795,277 C790.7,275.8 787.7,270.5 786,265 C784.3,259.5 781.8,247.7 785,244Z" fill="#ef8200"/><path d="M640,408 C641.2,402.7 643.8,395.7 647,392 C650.2,388.3 655.3,388.5 659,386 C662.7,383.5 664.8,378.5 669,377 C673.2,375.5 679.8,374.5 684,377 C688.2,379.5 692.8,386.3 694,392 C695.2,397.7 694.2,406.2 691,411 C687.8,415.8 678.7,417.3 675,421 C671.3,424.7 672.2,430.0 669,433 C665.8,436.0 660.2,438.5 656,439 C651.8,439.5 646.7,438.5 644,436 C641.3,433.5 640.7,428.7 640,424 C639.3,419.3 638.8,413.3 640,408Z" fill="#efb412"/><path d="M715,296 C718.8,293.7 738.3,295.3 743,298 C747.7,300.7 746.8,309.7 743,312 C739.2,314.3 724.7,314.7 720,312 C715.3,309.3 711.2,298.3 715,296Z" fill="#efb412"/><path d="M603,434 C605.5,431.0 613.3,429.3 618,429 C622.7,428.7 628.7,429.2 631,432 C633.3,434.8 634.7,442.7 632,446 C629.3,449.3 619.8,451.8 615,452 C610.2,452.2 605.0,450.0 603,447 C601.0,444.0 600.5,437.0 603,434Z" fill="#efb412"/><path d="M610,305 C615.2,302.0 628.5,301.2 636,300 C643.5,298.8 649.3,297.2 655,298 C660.7,298.8 664.0,302.0 670,305 C676.0,308.0 687.8,310.5 691,316 C694.2,321.5 692.2,332.3 689,338 C685.8,343.7 677.7,347.7 672,350 C666.3,352.3 660.3,351.7 655,352 C649.7,352.3 643.7,350.2 640,352 C636.3,353.8 636.3,358.5 633,363 C629.7,367.5 623.8,375.2 620,379 C616.2,382.8 613.8,385.3 610,386 C606.2,386.7 600.2,386.8 597,383 C593.8,379.2 593.2,370.0 591,363 C588.8,356.0 583.0,346.3 584,341 C585.0,335.7 593.5,334.8 597,331 C600.5,327.2 602.8,322.3 605,318 C607.2,313.7 604.8,308.0 610,305Z" fill="#c45d00"/><path d="M670,319 C672.8,314.3 684.3,314.7 689,317 C693.7,319.3 693.0,330.7 698,333 C703.0,335.3 712.3,331.7 719,331 C725.7,330.3 733.2,328.2 738,329 C742.8,329.8 746.3,332.5 748,336 C749.7,339.5 751.2,346.8 748,350 C744.8,353.2 733.3,352.7 729,355 C724.7,357.3 724.8,363.3 722,364 C719.2,364.7 717.2,360.5 712,359 C706.8,357.5 697.7,357.3 691,355 C684.3,352.7 675.5,351.0 672,345 C668.5,339.0 667.2,323.7 670,319Z" fill="#c45d00"/><path d="M664,264 C666.3,261.8 675.0,260.3 678,262 C681.0,263.7 683.0,270.8 682,274 C681.0,277.2 675.0,280.8 672,281 C669.0,281.2 665.3,277.8 664,275 C662.7,272.2 661.7,266.2 664,264Z" fill="#c45d00"/><path d="M822,262 C826.5,257.3 838.7,259.0 845,262 C851.3,265.0 859.2,272.0 860,280 C860.8,288.0 854.2,300.0 850,310 C845.8,320.0 839.7,332.0 835,340 C830.3,348.0 825.8,356.3 822,358 C818.2,359.7 812.7,356.3 812,350 C811.3,343.7 817.0,330.0 818,320 C819.0,310.0 817.3,299.7 818,290 C818.7,280.3 817.5,266.7 822,262Z" fill="#f7d96c"/><path d="M731,175 C734.0,173.7 738.8,175.5 740,178 C741.2,180.5 740.0,186.3 738,190 C736.0,193.7 731.2,196.7 728,200 C724.8,203.3 721.7,207.8 719,210 C716.3,212.2 713.7,213.7 712,213 C710.3,212.3 708.3,208.5 709,206 C709.7,203.5 713.8,201.3 716,198 C718.2,194.7 719.5,189.8 722,186 C724.5,182.2 728.0,176.3 731,175Z" fill="#8fd3f0"/><path d="M306.9,341.9 C308.1,340.7 316.6,337.9 319.2,337.2 C321.8,336.4 329.9,335.2 332.5,334.4 C335.1,333.5 343.1,329.8 345.7,328.7 C348.3,327.6 356.5,323.9 359,323 C361.5,322.1 368.2,320.1 370.3,319.2 C372.4,318.2 378.5,314.6 379.8,313.5 C381.1,312.4 382.5,308.8 383.6,307.9 C384.7,307.0 389.4,305.4 391.1,304.1 C392.8,302.8 399.1,296.1 400.6,294.6 C402.1,293.1 405.0,289.6 406.3,288.9 C407.6,288.2 412.6,287.8 413.9,288 C415.2,288.2 418.9,289.8 419.5,290.8 C420.1,291.8 420.1,296.7 419.5,298.4 C418.9,300.1 415.2,306.2 413.9,307.9 C412.6,309.6 408.6,314.3 406.3,315.4 C404.0,316.5 394.1,318.1 391.1,319.2 C388.1,320.3 379.0,325.3 376,326.8 C373.0,328.3 363.5,333.0 360.9,334.4 C358.2,335.8 351.8,339.9 349.5,341 C347.2,342.1 340.4,345.0 338.1,345.7 C335.8,346.4 329.3,347.2 326.8,347.6 C324.3,348.0 315.5,349.3 313.5,349.5 C311.5,349.7 307.6,350.3 306.9,349.5 C306.2,348.7 305.7,343.1 306.9,341.9Z" fill="#8fd3f0"/><path d="M292,352 C292.5,349.3 295.7,348.7 297,350 C298.3,351.3 299.8,356.7 300,360 C300.2,363.3 299.0,369.0 298,370 C297.0,371.0 295.0,369.0 294,366 C293.0,363.0 291.5,354.7 292,352Z" fill="#8fd3f0"/><path d="M466,263 C467.0,261.7 471.7,258.3 474,257 C476.3,255.7 479.7,254.3 480,255 C480.3,255.7 478.0,259.3 476,261 C474.0,262.7 469.7,264.7 468,265 C466.3,265.3 465.0,264.3 466,263Z" fill="#8fd3f0"/>
</g>
<g clip-path="url(#hu)"><g fill="none" stroke="#2b4632" stroke-width="1.05" stroke-linejoin="round" opacity="0.95"><polyline points="306.6,116.4 307.8,125 310,131 311.6,137.8 314,145.4 317.9,148 320,146 323,149 325.5,153 328,151 330.5,154 333,156.8 336.9,158 338,161 340.6,161.8 343,164.3 345.7,168 348,170.6 356,171"/><polyline points="356,172 345,183 333,195 325,208 318,222 310,238 302,253 298,272 297,290 296,310 294,330 293,345"/><polyline points="318,222 298,223 280,227 269,241 262,260 254,278 240,292 214,303 189,307"/><polyline points="280,303 276,330"/><polyline points="503,150 518,152 531,153 535,165 533,187 531,206 525,222 516,238 511,253 508,272 511,285 512,304 516,316 514,329 516,340 522,352 512,363 507,386 507,415 512,431 512,443 502,452 492,470 485,490"/><polyline points="535,153 538,171 536,197 535,219 528,231 520,247 516,266 517,282"/><polyline points="417,307 430,313 445,322 455,333 463,343 468,360 470,380 473,398 478,405 495,413 511,415"/><polyline points="357,413 383,413 407,411 430,407 445,404 452,390 452,370 455,356"/><polyline points="778,126 775,140 772,155 766,167 751,173 738,178 730,190 714,209 703,213 696,234 685,249 674,260 667,271 667,285 670,296 663,307 656,321 652,343 660,358 660,380 655,400 660,430 665,445"/><polyline points="605,140 605,162 609,187 623,202 638,205 645,213"/><polyline points="700,310 718,307 750,303 783,300 808,278 834,256 856,245 870,238"/><polyline points="783,300 819,300 848,296"/><polyline points="783,300 790,314 801,336 816,350 827,358 835,365"/><polyline points="718,307 700,315 678,329 672,345 668,360"/><polyline points="690,69 708,67 729,70 741,79 748,92 752,103 757,112 763,121 772,127 778,126"/><polyline points="790,40 786,50 781,58 772,66 766,73 763,85 763,100 763,116 766,124"/><polyline points="778,126 784,118 790,112 801,111 817,111 820,100 814,89 820,80 835,76 851,65 860,58 872,55"/><polyline points="814,89 832,85 848,82 872,76 896,65 905,52"/><polyline points="920,52 922,70 932,95 938,100 948,104 962,103 975,102 988,100"/><polyline points="932,95 945,110 958,128 968,145 975,148"/><polyline points="600,74 606,90 612,100 620,110 615,125 610,135 608,150 606,165"/></g><g fill="#fff8e8" opacity="0.95"><circle cx="607.5" cy="207.6" r="2.1"/><circle cx="619.8" cy="207.6" r="2.1"/><circle cx="607.5" cy="225.5" r="2.1"/><circle cx="619.8" cy="225.5" r="2.1"/><circle cx="632.1" cy="225.5" r="2.1"/><circle cx="644.4" cy="225.5" r="2.1"/><circle cx="656.7" cy="225.5" r="2.1"/><circle cx="669.0" cy="225.5" r="2.1"/><circle cx="681.3" cy="225.5" r="2.1"/><circle cx="570.6" cy="243.5" r="2.1"/><circle cx="582.9" cy="243.5" r="2.1"/><circle cx="595.2" cy="243.5" r="2.1"/><circle cx="607.5" cy="243.5" r="2.1"/><circle cx="619.8" cy="243.5" r="2.1"/><circle cx="632.1" cy="243.5" r="2.1"/><circle cx="644.4" cy="243.5" r="2.1"/><circle cx="656.7" cy="243.5" r="2.1"/><circle cx="669.0" cy="243.5" r="2.1"/><circle cx="681.3" cy="243.5" r="2.1"/><circle cx="693.6" cy="243.5" r="2.1"/><circle cx="570.6" cy="261.4" r="2.1"/><circle cx="582.9" cy="261.4" r="2.1"/><circle cx="595.2" cy="261.4" r="2.1"/><circle cx="607.5" cy="261.4" r="2.1"/><circle cx="619.8" cy="261.4" r="2.1"/><circle cx="632.1" cy="261.4" r="2.1"/><circle cx="644.4" cy="261.4" r="2.1"/><circle cx="656.7" cy="261.4" r="2.1"/><circle cx="669.0" cy="261.4" r="2.1"/><circle cx="681.3" cy="261.4" r="2.1"/><circle cx="693.6" cy="261.4" r="2.1"/><circle cx="705.9" cy="261.4" r="2.1"/><circle cx="570.6" cy="279.3" r="2.1"/><circle cx="582.9" cy="279.3" r="2.1"/><circle cx="595.2" cy="279.3" r="2.1"/><circle cx="607.5" cy="279.3" r="2.1"/><circle cx="619.8" cy="279.3" r="2.1"/><circle cx="632.1" cy="279.3" r="2.1"/><circle cx="644.4" cy="279.3" r="2.1"/><circle cx="656.7" cy="279.3" r="2.1"/><circle cx="570.6" cy="297.2" r="2.1"/><circle cx="607.5" cy="297.2" r="2.1"/><circle cx="619.8" cy="297.2" r="2.1"/><circle cx="632.1" cy="297.2" r="2.1"/><circle cx="644.4" cy="297.2" r="2.1"/><circle cx="656.7" cy="297.2" r="2.1"/><circle cx="669.0" cy="297.2" r="2.1"/><circle cx="681.3" cy="297.2" r="2.1"/><circle cx="546.0" cy="315.2" r="2.1"/><circle cx="558.3" cy="315.2" r="2.1"/><circle cx="570.6" cy="315.2" r="2.1"/><circle cx="582.9" cy="315.2" r="2.1"/><circle cx="595.2" cy="315.2" r="2.1"/><circle cx="632.1" cy="315.2" r="2.1"/><circle cx="656.7" cy="315.2" r="2.1"/><circle cx="669.0" cy="315.2" r="2.1"/><circle cx="681.3" cy="315.2" r="2.1"/><circle cx="533.7" cy="333.1" r="2.1"/><circle cx="570.6" cy="333.1" r="2.1"/><circle cx="582.9" cy="333.1" r="2.1"/><circle cx="595.2" cy="333.1" r="2.1"/><circle cx="607.5" cy="333.1" r="2.1"/><circle cx="619.8" cy="333.1" r="2.1"/><circle cx="632.1" cy="333.1" r="2.1"/><circle cx="644.4" cy="333.1" r="2.1"/><circle cx="656.7" cy="333.1" r="2.1"/><circle cx="669.0" cy="333.1" r="2.1"/><circle cx="681.3" cy="333.1" r="2.1"/><circle cx="693.6" cy="333.1" r="2.1"/><circle cx="705.9" cy="333.1" r="2.1"/><circle cx="718.2" cy="333.1" r="2.1"/><circle cx="730.5" cy="333.1" r="2.1"/><circle cx="742.8" cy="333.1" r="2.1"/><circle cx="533.7" cy="351.0" r="2.1"/><circle cx="546.0" cy="351.0" r="2.1"/><circle cx="558.3" cy="351.0" r="2.1"/><circle cx="570.6" cy="351.0" r="2.1"/><circle cx="582.9" cy="351.0" r="2.1"/><circle cx="595.2" cy="351.0" r="2.1"/><circle cx="607.5" cy="351.0" r="2.1"/><circle cx="558.3" cy="369.0" r="2.1"/><circle cx="570.6" cy="369.0" r="2.1"/><circle cx="582.9" cy="369.0" r="2.1"/><circle cx="595.2" cy="369.0" r="2.1"/><circle cx="607.5" cy="369.0" r="2.1"/><circle cx="619.8" cy="369.0" r="2.1"/><circle cx="521.4" cy="386.9" r="2.1"/><circle cx="533.7" cy="386.9" r="2.1"/><circle cx="546.0" cy="386.9" r="2.1"/><circle cx="558.3" cy="386.9" r="2.1"/><circle cx="570.6" cy="386.9" r="2.1"/><circle cx="582.9" cy="386.9" r="2.1"/><circle cx="595.2" cy="386.9" r="2.1"/></g></g>
<path d="M240,170 C238,160 241,148 246,140 C249,134 252,130 256,131 C259,133 258,140 255,147 C252,155 250,163 252,172 C249,176 243,176 240,170Z" fill="#8fd3f0" stroke="#4a90b0" stroke-width="0.6"/>
<path d="M205,178 L219,164 L229,162 L238,167 L250,176 L257,171 L260,169 L262,173 L284,170 L285,164 L283,147 L277,144 L288,139 L289,124 L302,115 L307,118 L316,124 L326,135 L340,145 L349,153 L361,161 L371,165 L394,163 L411,163 L430,166 L447,162 L463,160 L482,159 L489,153 L503,150 L496,144 L493,137 L491,123 L494,114 L506,111 L520,108 L529,105 L540,107 L551,107 L575,103 L582,96 L587,82 L599,75 L608,79 L618,84 L622,90 L632,90 L634,95 L644,88 L655,81 L663,74 L672,69 L681,62 L689,64 L694,54 L698,40 L703,28 L717,21 L727,18 L748,15 L752,19 L760,21 L765,24 L777,24 L781,30 L788,28 L795,25 L807,18 L819,15 L823,18 L836,26 L845,38 L850,47 L857,54 L869,55 L873,53 L884,51 L895,49 L904,49 L922,52 L928,55 L933,64 L937,73 L944,74 L955,77 L960,84 L964,99 L972,102 L981,99 L995,101 L997,108 L999,115 L996,122 L1000,126 L995,133 L987,139 L983,146 L971,156 L960,158 L950,154 L945,156 L943,164 L936,162 L929,163 L924,170 L919,177 L915,189 L908,193 L900,199 L896,208 L891,225 L881,234 L877,244 L873,253 L872,262 L869,270 L864,278 L856,283 L851,295 L849,305 L843,310 L841,321 L833,326 L831,333 L832,346 L826,351 L821,360 L816,363 L808,366 L806,374 L804,386 L806,395 L801,402 L796,410 L791,418 L789,421 L783,423 L780,427 L774,432 L768,429 L759,426 L750,425 L742,426 L737,432 L735,439 L729,447 L722,453 L714,447 L705,447 L699,449 L690,448 L684,451 L675,455 L669,451 L662,451 L658,447 L652,449 L647,444 L637,444 L624,452 L613,449 L606,444 L600,442 L593,444 L585,449 L585,456 L578,462 L570,467 L559,473 L557,477 L548,475 L537,471 L531,477 L529,482 L522,486 L520,490 L510,490 L501,492 L499,497 L490,495 L486,492 L479,495 L477,499 L473,507 L469,512 L462,512 L456,516 L452,520 L447,520 L441,518 L432,517 L421,518 L411,516 L400,515 L396,516 L380,516 L367,510 L355,502 L345,493 L333,488 L326,488 L320,485 L310,478 L304,469 L301,463 L298,456 L295,447 L288,444 L279,437 L269,431 L262,422 L257,410 L247,406 L235,398 L228,393 L219,387 L213,374 L206,365 L200,356 L198,349 L195,341 L193,334 L193,323 L185,320 L175,318 L168,321 L170,316 L178,308 L185,303 L188,298 L193,296 L205,296 L213,296 L216,291 L218,281 L214,273 L210,268 L205,260 L207,253 L212,245 L210,235 L208,225 L210,223 L222,223 L229,218 L233,216 L238,211 L239,204 L235,202 L236,195 L231,188 L217,180 L207,178Z" fill="none" stroke="#111" stroke-width="1.6" stroke-linejoin="round"/>
<g class="lab"><text x="710" y="34.1" textLength="18" lengthAdjust="spacingAndGlyphs">566</text><text x="797" y="32.1" textLength="18" lengthAdjust="spacingAndGlyphs">548</text><text x="836" y="34.1" textLength="18" lengthAdjust="spacingAndGlyphs">567</text><text x="808" y="64.1" textLength="18" lengthAdjust="spacingAndGlyphs">610</text><text x="848" y="55.1" textLength="18" lengthAdjust="spacingAndGlyphs">491</text><text x="912" y="51.1" textLength="18" lengthAdjust="spacingAndGlyphs">496</text><text x="686" y="71.1" textLength="18" lengthAdjust="spacingAndGlyphs">497</text><text x="736" y="71.1" textLength="18" lengthAdjust="spacingAndGlyphs">479</text><text x="886" y="74.1" textLength="18" lengthAdjust="spacingAndGlyphs">436</text><text x="762" y="86.1" textLength="18" lengthAdjust="spacingAndGlyphs">492</text><text x="855" y="88.1" textLength="18" lengthAdjust="spacingAndGlyphs">448</text><text x="608" y="94.1" textLength="18" lengthAdjust="spacingAndGlyphs">530</text><text x="651" y="97.1" textLength="18" lengthAdjust="spacingAndGlyphs">522</text><text x="928" y="100.1" textLength="18" lengthAdjust="spacingAndGlyphs">432</text><text x="986" y="104.1" textLength="18" lengthAdjust="spacingAndGlyphs">456</text><text x="585" y="104.1" textLength="18" lengthAdjust="spacingAndGlyphs">527</text><text x="709" y="102.1" textLength="18" lengthAdjust="spacingAndGlyphs">646</text><text x="734" y="106.1" textLength="18" lengthAdjust="spacingAndGlyphs">548</text><text x="500" y="118.1" textLength="18" lengthAdjust="spacingAndGlyphs">455</text><text x="565" y="124.1" textLength="18" lengthAdjust="spacingAndGlyphs">463</text><text x="663" y="128.1" textLength="18" lengthAdjust="spacingAndGlyphs">453</text><text x="877" y="129.1" textLength="18" lengthAdjust="spacingAndGlyphs">440</text><text x="543" y="137.1" textLength="18" lengthAdjust="spacingAndGlyphs">501</text><text x="613" y="137.1" textLength="18" lengthAdjust="spacingAndGlyphs">477</text><text x="692" y="140.1" textLength="18" lengthAdjust="spacingAndGlyphs">538</text><text x="308" y="143.1" textLength="18" lengthAdjust="spacingAndGlyphs">591</text><text x="646" y="145.1" textLength="18" lengthAdjust="spacingAndGlyphs">576</text><text x="712" y="150.1" textLength="18" lengthAdjust="spacingAndGlyphs">471</text><text x="972" y="151.1" textLength="18" lengthAdjust="spacingAndGlyphs">416</text><text x="850" y="155.1" textLength="18" lengthAdjust="spacingAndGlyphs">402</text><text x="785" y="158.1" textLength="18" lengthAdjust="spacingAndGlyphs">436</text><text x="606" y="159.1" textLength="18" lengthAdjust="spacingAndGlyphs">316</text><text x="633" y="162.1" textLength="18" lengthAdjust="spacingAndGlyphs">365</text><text x="474" y="166.1" textLength="18" lengthAdjust="spacingAndGlyphs">458</text><text x="673" y="170.1" textLength="18" lengthAdjust="spacingAndGlyphs">450</text><text x="421" y="170.1" textLength="18" lengthAdjust="spacingAndGlyphs">424</text><text x="509" y="173.1" textLength="18" lengthAdjust="spacingAndGlyphs">666</text><text x="303" y="173.1" textLength="18" lengthAdjust="spacingAndGlyphs">510</text><text x="358" y="174.1" textLength="18" lengthAdjust="spacingAndGlyphs">440</text><text x="226" y="180.1" textLength="18" lengthAdjust="spacingAndGlyphs">628</text><text x="725" y="185.1" textLength="18" lengthAdjust="spacingAndGlyphs">463</text><text x="472" y="185.1" textLength="18" lengthAdjust="spacingAndGlyphs">476</text><text x="580" y="185.1" textLength="18" lengthAdjust="spacingAndGlyphs">370</text><text x="436" y="186.1" textLength="18" lengthAdjust="spacingAndGlyphs">402</text><text x="813" y="189.1" textLength="18" lengthAdjust="spacingAndGlyphs">434</text><text x="897" y="178.1" textLength="18" lengthAdjust="spacingAndGlyphs">434</text><text x="375" y="190.1" textLength="18" lengthAdjust="spacingAndGlyphs">372</text><text x="777" y="194.1" textLength="18" lengthAdjust="spacingAndGlyphs">416</text><text x="258" y="196.1" textLength="18" lengthAdjust="spacingAndGlyphs">578</text><text x="595" y="196.1" textLength="18" lengthAdjust="spacingAndGlyphs">344</text><text x="298" y="198.1" textLength="18" lengthAdjust="spacingAndGlyphs">486</text><text x="530" y="191.1" textLength="18" lengthAdjust="spacingAndGlyphs">451</text><text x="487" y="204.1" textLength="18" lengthAdjust="spacingAndGlyphs">442</text><text x="571" y="207.1" textLength="18" lengthAdjust="spacingAndGlyphs">396</text><text x="664" y="209.1" textLength="18" lengthAdjust="spacingAndGlyphs">313</text><text x="525" y="210.1" textLength="18" lengthAdjust="spacingAndGlyphs">339</text><text x="324" y="211.1" textLength="18" lengthAdjust="spacingAndGlyphs">511</text><text x="409" y="214.1" textLength="18" lengthAdjust="spacingAndGlyphs">456</text><text x="842" y="215.1" textLength="18" lengthAdjust="spacingAndGlyphs">373</text><text x="754" y="219.1" textLength="18" lengthAdjust="spacingAndGlyphs">362</text><text x="469" y="222.1" textLength="18" lengthAdjust="spacingAndGlyphs">389</text><text x="890" y="223.1" textLength="18" lengthAdjust="spacingAndGlyphs">455</text><text x="588" y="225.1" textLength="18" lengthAdjust="spacingAndGlyphs">335</text><text x="544" y="225.1" textLength="18" lengthAdjust="spacingAndGlyphs">414</text><text x="367" y="225.1" textLength="18" lengthAdjust="spacingAndGlyphs">427</text><text x="232" y="226.1" textLength="18" lengthAdjust="spacingAndGlyphs">612</text><text x="426" y="227.1" textLength="18" lengthAdjust="spacingAndGlyphs">542</text><text x="510" y="231.1" textLength="18" lengthAdjust="spacingAndGlyphs">374</text><text x="494" y="246.1" textLength="18" lengthAdjust="spacingAndGlyphs">367</text><text x="696" y="231.1" textLength="18" lengthAdjust="spacingAndGlyphs">360</text><text x="279" y="233.1" textLength="18" lengthAdjust="spacingAndGlyphs">443</text><text x="630" y="238.1" textLength="18" lengthAdjust="spacingAndGlyphs">305</text><text x="665" y="238.1" textLength="18" lengthAdjust="spacingAndGlyphs">328</text><text x="533" y="238.1" textLength="18" lengthAdjust="spacingAndGlyphs">404</text><text x="336" y="238.1" textLength="18" lengthAdjust="spacingAndGlyphs">456</text><text x="719" y="246.1" textLength="18" lengthAdjust="spacingAndGlyphs">393</text><text x="754" y="250.1" textLength="18" lengthAdjust="spacingAndGlyphs">399</text><text x="866" y="252.1" textLength="18" lengthAdjust="spacingAndGlyphs">473</text><text x="402" y="255.1" textLength="18" lengthAdjust="spacingAndGlyphs">554</text><text x="565" y="258.1" textLength="18" lengthAdjust="spacingAndGlyphs">288</text><text x="369" y="257.1" textLength="18" lengthAdjust="spacingAndGlyphs">644</text><text x="834" y="265.1" textLength="18" lengthAdjust="spacingAndGlyphs">452</text><text x="232" y="267.1" textLength="18" lengthAdjust="spacingAndGlyphs">500</text><text x="451" y="273.1" textLength="18" lengthAdjust="spacingAndGlyphs">386</text><text x="280" y="274.1" textLength="18" lengthAdjust="spacingAndGlyphs">518</text><text x="624" y="274.1" textLength="18" lengthAdjust="spacingAndGlyphs">316</text><text x="544" y="276.1" textLength="18" lengthAdjust="spacingAndGlyphs">358</text><text x="673" y="279.1" textLength="18" lengthAdjust="spacingAndGlyphs">289</text><text x="328" y="282.1" textLength="18" lengthAdjust="spacingAndGlyphs">540</text><text x="505" y="284.1" textLength="18" lengthAdjust="spacingAndGlyphs">442</text><text x="737" y="286.1" textLength="18" lengthAdjust="spacingAndGlyphs">322</text><text x="211" y="286.1" textLength="18" lengthAdjust="spacingAndGlyphs">574</text><text x="704" y="288.1" textLength="18" lengthAdjust="spacingAndGlyphs">319</text><text x="394" y="288.1" textLength="18" lengthAdjust="spacingAndGlyphs">434</text><text x="356" y="294.1" textLength="18" lengthAdjust="spacingAndGlyphs">517</text><text x="414" y="297.1" textLength="18" lengthAdjust="spacingAndGlyphs">399</text><text x="535" y="298.1" textLength="18" lengthAdjust="spacingAndGlyphs">355</text><text x="841" y="299.1" textLength="18" lengthAdjust="spacingAndGlyphs">415</text><text x="378" y="302.1" textLength="18" lengthAdjust="spacingAndGlyphs">509</text><text x="774" y="306.1" textLength="18" lengthAdjust="spacingAndGlyphs">332</text><text x="311" y="309.1" textLength="18" lengthAdjust="spacingAndGlyphs">540</text><text x="589" y="308.1" textLength="18" lengthAdjust="spacingAndGlyphs">350</text><text x="502" y="311.1" textLength="18" lengthAdjust="spacingAndGlyphs">432</text><text x="252" y="315.1" textLength="18" lengthAdjust="spacingAndGlyphs">539</text><text x="190" y="319.1" textLength="18" lengthAdjust="spacingAndGlyphs">656</text><text x="402" y="318.1" textLength="18" lengthAdjust="spacingAndGlyphs">351</text><text x="614" y="318.1" textLength="18" lengthAdjust="spacingAndGlyphs">316</text><text x="329" y="322.1" textLength="18" lengthAdjust="spacingAndGlyphs">530</text><text x="472" y="323.1" textLength="18" lengthAdjust="spacingAndGlyphs">361</text><text x="645" y="325.1" textLength="18" lengthAdjust="spacingAndGlyphs">281</text><text x="710" y="325.1" textLength="18" lengthAdjust="spacingAndGlyphs">312</text><text x="758" y="329.1" textLength="18" lengthAdjust="spacingAndGlyphs">280</text><text x="294" y="332.1" textLength="18" lengthAdjust="spacingAndGlyphs">507</text><text x="522" y="339.1" textLength="18" lengthAdjust="spacingAndGlyphs">416</text><text x="556" y="341.1" textLength="18" lengthAdjust="spacingAndGlyphs">327</text><text x="821" y="343.1" textLength="18" lengthAdjust="spacingAndGlyphs">452</text><text x="212" y="344.1" textLength="18" lengthAdjust="spacingAndGlyphs">608</text><text x="463" y="346.1" textLength="18" lengthAdjust="spacingAndGlyphs">433</text><text x="343" y="347.1" textLength="18" lengthAdjust="spacingAndGlyphs">488</text><text x="628" y="351.1" textLength="18" lengthAdjust="spacingAndGlyphs">296</text><text x="702" y="352.1" textLength="18" lengthAdjust="spacingAndGlyphs">270</text><text x="295" y="357.1" textLength="18" lengthAdjust="spacingAndGlyphs">504</text><text x="420" y="358.1" textLength="18" lengthAdjust="spacingAndGlyphs">406</text><text x="787" y="360.1" textLength="18" lengthAdjust="spacingAndGlyphs">361</text><text x="255" y="364.1" textLength="18" lengthAdjust="spacingAndGlyphs">617</text><text x="382" y="370.1" textLength="18" lengthAdjust="spacingAndGlyphs">456</text><text x="680" y="372.1" textLength="18" lengthAdjust="spacingAndGlyphs">292</text><text x="227" y="373.1" textLength="18" lengthAdjust="spacingAndGlyphs">614</text><text x="354" y="377.1" textLength="18" lengthAdjust="spacingAndGlyphs">639</text><text x="772" y="377.1" textLength="18" lengthAdjust="spacingAndGlyphs">362</text><text x="502" y="378.1" textLength="18" lengthAdjust="spacingAndGlyphs">390</text><text x="539" y="378.1" textLength="18" lengthAdjust="spacingAndGlyphs">356</text><text x="729" y="384.1" textLength="18" lengthAdjust="spacingAndGlyphs">294</text><text x="613" y="393.1" textLength="18" lengthAdjust="spacingAndGlyphs">268</text><text x="642" y="398.1" textLength="18" lengthAdjust="spacingAndGlyphs">332</text><text x="271" y="398.1" textLength="18" lengthAdjust="spacingAndGlyphs">581</text><text x="326" y="403.1" textLength="18" lengthAdjust="spacingAndGlyphs">558</text><text x="400" y="404.1" textLength="18" lengthAdjust="spacingAndGlyphs">419</text><text x="454" y="404.1" textLength="18" lengthAdjust="spacingAndGlyphs">426</text><text x="583" y="405.1" textLength="18" lengthAdjust="spacingAndGlyphs">316</text><text x="241" y="405.1" textLength="18" lengthAdjust="spacingAndGlyphs">624</text><text x="667" y="407.1" textLength="18" lengthAdjust="spacingAndGlyphs">380</text><text x="540" y="410.1" textLength="18" lengthAdjust="spacingAndGlyphs">353</text><text x="487" y="413.1" textLength="18" lengthAdjust="spacingAndGlyphs">406</text><text x="357" y="417.1" textLength="18" lengthAdjust="spacingAndGlyphs">532</text><text x="383" y="417.1" textLength="18" lengthAdjust="spacingAndGlyphs">484</text><text x="701" y="417.1" textLength="18" lengthAdjust="spacingAndGlyphs">319</text><text x="788" y="417.1" textLength="18" lengthAdjust="spacingAndGlyphs">356</text><text x="735" y="425.1" textLength="18" lengthAdjust="spacingAndGlyphs">320</text><text x="612" y="431.1" textLength="18" lengthAdjust="spacingAndGlyphs">342</text><text x="451" y="433.1" textLength="18" lengthAdjust="spacingAndGlyphs">566</text><text x="655" y="436.1" textLength="18" lengthAdjust="spacingAndGlyphs">346</text><text x="288" y="440.1" textLength="18" lengthAdjust="spacingAndGlyphs">668</text><text x="320" y="439.1" textLength="18" lengthAdjust="spacingAndGlyphs">599</text><text x="473" y="442.1" textLength="18" lengthAdjust="spacingAndGlyphs">475</text><text x="702" y="445.1" textLength="18" lengthAdjust="spacingAndGlyphs">338</text><text x="544" y="445.1" textLength="18" lengthAdjust="spacingAndGlyphs">371</text><text x="596" y="447.1" textLength="18" lengthAdjust="spacingAndGlyphs">325</text><text x="523" y="449.1" textLength="18" lengthAdjust="spacingAndGlyphs">379</text><text x="428" y="458.1" textLength="18" lengthAdjust="spacingAndGlyphs">531</text><text x="399" y="475.1" textLength="18" lengthAdjust="spacingAndGlyphs">449</text><text x="546" y="475.1" textLength="18" lengthAdjust="spacingAndGlyphs">368</text><text x="316" y="477.1" textLength="18" lengthAdjust="spacingAndGlyphs">586</text><text x="427" y="482.1" textLength="18" lengthAdjust="spacingAndGlyphs">434</text><text x="475" y="492.1" textLength="18" lengthAdjust="spacingAndGlyphs">301</text><text x="509" y="492.1" textLength="18" lengthAdjust="spacingAndGlyphs">422</text><text x="380" y="505.1" textLength="18" lengthAdjust="spacingAndGlyphs">544</text><text x="423" y="519.1" textLength="18" lengthAdjust="spacingAndGlyphs">501</text></g>
<rect x="189.30" y="559" width="28.51" height="16.6" fill="#4e2a06"/><rect x="217.41" y="559" width="28.51" height="16.6" fill="#8a4300"/><rect x="245.52" y="559" width="28.51" height="16.6" fill="#c45d00"/><rect x="273.63" y="559" width="28.51" height="16.6" fill="#ef8200"/><rect x="301.74" y="559" width="28.51" height="16.6" fill="#efb412"/><rect x="329.85" y="559" width="28.51" height="16.6" fill="#f7d96c"/><rect x="357.96" y="559" width="28.51" height="16.6" fill="#fcfc04"/><rect x="386.07" y="559" width="28.51" height="16.6" fill="#9bef14"/><rect x="414.19" y="559" width="28.51" height="16.6" fill="#08d90c"/><rect x="442.30" y="559" width="28.51" height="16.6" fill="#15c03a"/><rect x="470.41" y="559" width="28.51" height="16.6" fill="#13a64e"/><rect x="498.52" y="559" width="28.51" height="16.6" fill="#12b2b4"/><rect x="526.63" y="559" width="28.51" height="16.6" fill="#58c4fb"/><rect x="554.74" y="559" width="28.51" height="16.6" fill="#4aa2fb"/><rect x="582.85" y="559" width="28.51" height="16.6" fill="#3f8bfb"/><rect x="610.96" y="559" width="28.51" height="16.6" fill="#3570fb"/><rect x="639.07" y="559" width="28.51" height="16.6" fill="#2751fb"/><rect x="667.18" y="559" width="28.51" height="16.6" fill="#0a3ee2"/><rect x="695.29" y="559" width="28.51" height="16.6" fill="#0836c4"/><rect x="723.40" y="559" width="28.51" height="16.6" fill="#0626a4"/><rect x="751.51" y="559" width="28.51" height="16.6" fill="#071682"/><rect x="779.62" y="559" width="28.51" height="16.6" fill="#4a1212"/><rect x="807.74" y="559" width="28.51" height="16.6" fill="#651616"/><rect x="835.85" y="559" width="28.51" height="16.6" fill="#7e1818"/><rect x="863.96" y="559" width="28.51" height="16.6" fill="#981a1a"/><rect x="892.07" y="559" width="28.51" height="16.6" fill="#b21a1a"/><rect x="920.18" y="559" width="28.51" height="16.6" fill="#d41c1c"/><rect x="948.29" y="559" width="28.51" height="16.6" fill="#fd0404"/><rect x="189.3" y="559" width="787.10" height="16.6" fill="none" stroke="#555" stroke-width="0.6"/>
<line x1="217.41" y1="575.7" x2="217.41" y2="583" stroke="#888" stroke-width="1"/><text x="217.41" y="601.9" text-anchor="middle" font-size="14" fill="#333">200</text><line x1="273.63" y1="575.7" x2="273.63" y2="583" stroke="#888" stroke-width="1"/><text x="273.63" y="601.9" text-anchor="middle" font-size="14" fill="#333">300</text><line x1="329.85" y1="575.7" x2="329.85" y2="583" stroke="#888" stroke-width="1"/><text x="329.85" y="601.9" text-anchor="middle" font-size="14" fill="#333">400</text><line x1="386.07" y1="575.7" x2="386.07" y2="583" stroke="#888" stroke-width="1"/><text x="386.07" y="601.9" text-anchor="middle" font-size="14" fill="#333">500</text><line x1="442.30" y1="575.7" x2="442.30" y2="583" stroke="#888" stroke-width="1"/><text x="442.30" y="601.9" text-anchor="middle" font-size="14" fill="#333">600</text><line x1="498.52" y1="575.7" x2="498.52" y2="583" stroke="#888" stroke-width="1"/><text x="498.52" y="601.9" text-anchor="middle" font-size="14" fill="#333">700</text><line x1="554.74" y1="575.7" x2="554.74" y2="583" stroke="#888" stroke-width="1"/><text x="554.74" y="601.9" text-anchor="middle" font-size="14" fill="#333">800</text><line x1="610.96" y1="575.7" x2="610.96" y2="583" stroke="#888" stroke-width="1"/><text x="610.96" y="601.9" text-anchor="middle" font-size="14" fill="#333">900</text><line x1="667.18" y1="575.7" x2="667.18" y2="583" stroke="#888" stroke-width="1"/><text x="667.18" y="601.9" text-anchor="middle" font-size="14" fill="#333">1000</text><line x1="723.40" y1="575.7" x2="723.40" y2="583" stroke="#888" stroke-width="1"/><text x="723.40" y="601.9" text-anchor="middle" font-size="14" fill="#333">1100</text><line x1="779.62" y1="575.7" x2="779.62" y2="583" stroke="#888" stroke-width="1"/><text x="779.62" y="601.9" text-anchor="middle" font-size="14" fill="#333">1200</text><line x1="835.85" y1="575.7" x2="835.85" y2="583" stroke="#888" stroke-width="1"/><text x="835.85" y="601.9" text-anchor="middle" font-size="14" fill="#333">1300</text><line x1="892.07" y1="575.7" x2="892.07" y2="583" stroke="#888" stroke-width="1"/><text x="892.07" y="601.9" text-anchor="middle" font-size="14" fill="#333">1400</text><line x1="948.29" y1="575.7" x2="948.29" y2="583" stroke="#888" stroke-width="1"/><text x="948.29" y="601.9" text-anchor="middle" font-size="14" fill="#333">1500</text>
<text x="582.6" y="556.3" text-anchor="middle" font-size="15.2" fill="#222">Csapadékösszeg [mm]</text>
</svg>
<div id="title"><div id="tt">Csapadékösszeg (mm) -</div><div id="ty">2025.év</div></div>
</body></html>
